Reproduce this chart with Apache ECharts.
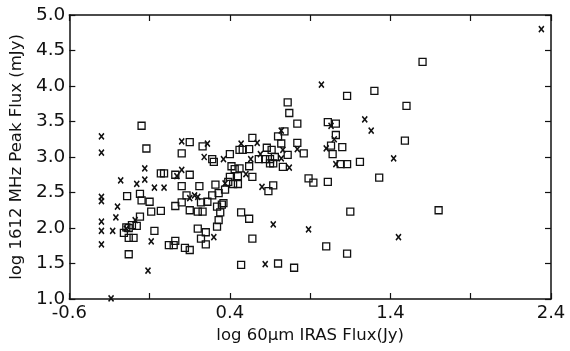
<!DOCTYPE html>
<html>
<head>
<meta charset="utf-8">
<script src="https://cdn.jsdelivr.net/npm/echarts@6/dist/echarts.min.js"></script>
<style>
  html, body { margin: 0; padding: 0; background: #fff; }
  #chart { width: 570px; height: 351px; }
</style>
</head>
<body>
<div id="chart"></div>
<script>
// x 标记的源 [log 60um flux, log 1612 MHz peak flux]
var crossPoints = [
	[-0.40, 3.29], [-0.40, 3.06], [-0.40, 2.44], [-0.40, 2.38], [-0.40, 2.09], [-0.40, 1.96], [-0.40, 1.77],
	[-0.33, 1.96], [-0.31, 2.15], [-0.30, 2.30], [-0.28, 2.67], [-0.34, 1.01],
	[-0.13, 2.84], [-0.13, 2.68], [-0.18, 2.62], [-0.07, 2.57], [-0.01, 2.57], [-0.11, 1.40], [-0.09, 1.81],
	[-0.19, 2.11], [-0.245, 1.99],
	[0.10, 3.22], [0.10, 2.82], [0.07, 2.73], [0.26, 3.19], [0.24, 3.00], [0.36, 2.97], [0.47, 3.19],
	[0.18, 2.46], [0.20, 2.44], [0.15, 2.42], [0.30, 1.87], [0.37, 2.63],
	[0.97, 4.02], [1.24, 3.53], [1.28, 3.37], [0.57, 3.20], [0.53, 2.97], [0.59, 3.04],
	[0.72, 3.37], [0.73, 3.10], [0.72, 2.98], [0.82, 3.11], [0.77, 2.85], [0.50, 2.76], [0.60, 2.58],
	[1.03, 3.44], [1.05, 3.25], [1.00, 3.12], [1.06, 2.90], [0.67, 2.05], [0.89, 1.98], [0.62, 1.49],
	[2.34, 4.80], [1.42, 2.98], [1.45, 1.87]
];
// 方框标记的源
var squarePoints = [
	[-0.15, 3.44], [-0.12, 3.12], [0.10, 3.05], [0.15, 3.21], [0.23, 3.15], [0.29, 2.97], [0.30, 2.93],
	[0.40, 3.04], [0.46, 3.10], [0.48, 3.10],
	[-0.03, 2.77], [-0.01, 2.77], [0.06, 2.75], [0.15, 2.75], [0.10, 2.59], [0.21, 2.59], [0.31, 2.61],
	[-0.24, 2.45], [-0.16, 2.48], [-0.15, 2.39], [-0.10, 2.37], [-0.09, 2.23], [-0.03, 2.24], [0.06, 2.31],
	[0.10, 2.36], [0.13, 2.46], [0.15, 2.25], [0.20, 2.23], [0.23, 2.23], [0.22, 2.36], [0.26, 2.37],
	[0.29, 2.46], [0.33, 2.49], [0.36, 2.35], [0.32, 2.30], [0.35, 2.33], [0.34, 2.22], [0.33, 2.11], [0.32, 2.02],
	[0.37, 2.54], [0.39, 2.65], [0.40, 2.72], [0.41, 2.87], [0.43, 2.83], [0.46, 2.84], [0.45, 2.73],
	[0.42, 2.62], [0.45, 2.62], [0.47, 2.22], [0.47, 1.48],
	[-0.26, 1.93], [-0.245, 2.01], [-0.23, 2.00], [-0.21, 2.04], [-0.18, 2.03], [-0.23, 1.86], [-0.20, 1.86],
	[-0.16, 2.16], [-0.23, 1.63], [-0.07, 1.96],
	[0.02, 1.76], [0.05, 1.76], [0.06, 1.82], [0.12, 1.72], [0.15, 1.69], [0.20, 1.99], [0.25, 1.94],
	[0.22, 1.85], [0.25, 1.77],
	[1.13, 3.86], [1.30, 3.93], [0.76, 3.77], [0.77, 3.62], [0.82, 3.47], [1.01, 3.49], [1.06, 3.47],
	[1.06, 3.31], [1.03, 3.16], [1.04, 3.04], [1.10, 3.14], [0.74, 3.36], [0.70, 3.29], [0.72, 3.19],
	[0.82, 3.20], [0.86, 3.05], [0.54, 3.27], [0.52, 3.11], [0.63, 3.13], [0.66, 3.10],
	[0.58, 2.97], [0.62, 2.97], [0.65, 2.97], [0.68, 3.00], [0.76, 3.03], [0.65, 2.91], [0.67, 2.91],
	[0.73, 2.86], [0.52, 2.87], [0.54, 2.72], [0.64, 2.52], [0.67, 2.60], [0.89, 2.70], [0.92, 2.64],
	[1.01, 2.65], [1.09, 2.90], [1.13, 2.90], [1.21, 2.93], [1.33, 2.71], [0.52, 2.13], [0.54, 1.85],
	[1.15, 2.23], [1.00, 1.74], [1.13, 1.64], [0.70, 1.50], [0.80, 1.44],
	[1.60, 4.34], [1.50, 3.72], [1.49, 3.23], [1.70, 2.25]
];
var xTickLabels = ['-0.6', '0.4', '1.4', '2.4'];
var xAxisName = 'log 60\u03bcm IRAS Flux(Jy)';
var yAxisName = 'log 1612 MHz Peak Flux (mJy)';

var fontFamily = 'DejaVu Sans';
var lineColor = '#111';

function xLabel(v) {
	var s = (Math.round(v * 10) / 10).toFixed(1);
	return xTickLabels.indexOf(s) >= 0 ? s : '';
}

var baseX = {
	type: 'value',
	min: -0.6,
	max: 2.4,
	interval: 0.5,
	axisLine: { show: true, onZero: false, lineStyle: { color: lineColor, width: 1.5 } },
	axisTick: { show: true, inside: true, length: 6, lineStyle: { color: lineColor, width: 1.2 } },
	splitLine: { show: false }
};
var baseY = {
	type: 'value',
	min: 1.0,
	max: 5.0,
	interval: 0.5,
	axisLine: { show: true, onZero: false, lineStyle: { color: lineColor, width: 1.5 } },
	axisTick: { show: true, inside: true, length: 6, lineStyle: { color: lineColor, width: 1.2 } },
	splitLine: { show: false }
};

var option = {
	backgroundColor: '#fff',
	animation: false,
	grid: {
		left: 61,
		right: 19,
		top: 15,
		bottom: 52
	}
};

option.xAxis = [
	Object.assign({}, baseX, {
		position: 'bottom',
		name: xAxisName,
		nameLocation: 'middle',
		nameGap: 25,
		nameTextStyle: { fontFamily: fontFamily, fontSize: 16.5, color: lineColor },
		axisLabel: {
			margin: 5,
			fontFamily: fontFamily,
			fontSize: 18,
			color: lineColor,
			formatter: xLabel
		}
	}),
	Object.assign({}, baseX, {
		position: 'top',
		axisLabel: { show: false }
	})
];
option.yAxis = [
	Object.assign({}, baseY, {
		position: 'left',
		name: yAxisName,
		nameLocation: 'middle',
		nameGap: 40,
		nameTextStyle: { fontFamily: fontFamily, fontSize: 16.5, color: lineColor },
		axisLabel: {
			margin: 4,
			fontFamily: fontFamily,
			fontSize: 18.5,
			color: lineColor,
			formatter: function(v) { return v.toFixed(1); }
		}
	}),
	Object.assign({}, baseY, {
		position: 'right',
		axisLabel: { show: false }
	})
];
option.series = [{
	name: 'x',
	type: 'scatter',
	data: crossPoints,
	symbol: 'path://M0,0L10,12M10,0L0,12',
	symbolSize: [5, 6],
	itemStyle: { color: 'none', borderColor: lineColor, borderWidth: 1.6, opacity: 1 }
}, {
	name: 'square',
	type: 'scatter',
	data: squarePoints,
	symbol: 'rect',
	symbolSize: 7,
	itemStyle: { color: 'rgba(255,255,255,0)', borderColor: lineColor, borderWidth: 1.3, opacity: 1 }
}];

var chart = echarts.init(document.getElementById('chart'), null, { renderer: 'canvas' });
chart.setOption(option);
</script>
</body>
</html>
